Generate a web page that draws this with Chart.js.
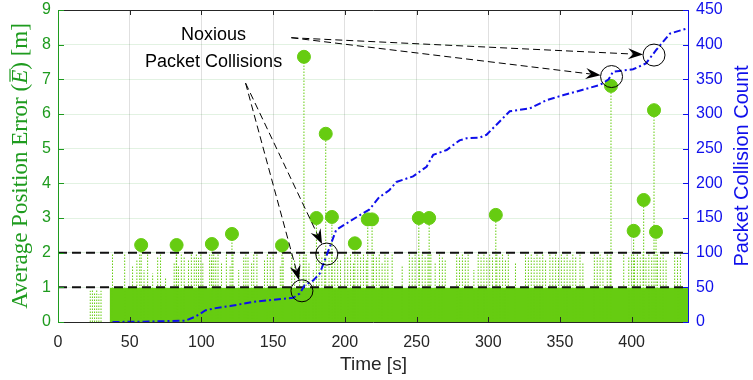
<!DOCTYPE html>
<html>
<head>
<meta charset="utf-8">
<script src="https://cdn.jsdelivr.net/npm/chart.js@4.4.1/dist/chart.umd.min.js"></script>
<style>
  html, body { margin: 0; padding: 0; background: #fff; }
  #wrap { width: 753px; height: 380px; }
</style>
</head>
<body>
<div id="wrap"><canvas id="errChart" width="753" height="380"></canvas></div>
<script>
// large errors (these get a marker on top of the stem)
const peakTimes  = [58, 82.7, 107.3, 121.3, 156.2, 171.5, 180.2, 186.7, 191, 207, 216, 219, 251.6, 258.8, 305.3, 385.6, 401.4, 408.4, 415.6, 417];
const peakErrors = [2.22, 2.22, 2.25, 2.54, 2.21, 7.65, 3.0, 5.43, 3.03, 2.27, 2.96, 2.96, 3.0, 3.0, 3.09, 6.81, 2.63, 3.52, 6.11, 2.6];

// stems between the two thresholds (no marker)
const bandTimes  = [22.5, 24, 25.5, 27, 28.5, 30,
  38, 46.5, 52, 55, 57, 60, 62.5, 66, 69.5, 71.5, 75, 81, 82.5, 84, 86, 88, 91, 93, 95, 96.5, 98, 99.6,
  101, 105.7, 107, 108.6, 110, 111.6, 114, 117.4, 120, 122, 126, 129.5, 131, 132.5, 135, 136.5, 138.7,
  144, 146, 148, 150, 155, 157, 163, 165, 168.5, 171, 173, 175, 178, 182, 184, 186, 189, 191, 193, 195, 197,
  200, 202, 204, 206, 209, 211, 213, 215, 220, 222, 224, 226, 228, 230, 233, 240, 245, 247, 249,
  252, 254, 256, 258, 260, 263, 266, 268, 270, 278, 280, 282, 284, 286, 290, 293, 295, 297, 299,
  301, 303, 306, 308, 310, 312, 314, 319, 326, 328, 330, 332, 334, 336, 338, 340, 343, 345, 347, 349,
  351, 353, 355, 357, 359, 361, 364, 366, 374, 376, 378, 380, 383, 385, 394.5, 398,
  400, 402, 404, 406, 408, 410, 412, 414, 418, 420, 422, 424, 430, 432, 434];
const bandErrors = [0.9, 0.95, 0.85, 0.95, 0.8, 0.9,
  1.95, 1.95, 1.6, 1.8, 1.95, 1.5, 1.95, 1.4, 1.9, 1.95, 1.3, 1.7, 1.95, 1.6, 1.95, 1.9, 1.8, 1.95, 1.9, 1.95, 1.85, 1.95,
  1.7, 1.95, 1.8, 1.95, 1.9, 1.95, 1.7, 1.95, 1.6, 1.95, 1.5, 1.9, 1.95, 1.9, 1.7, 1.95, 1.95,
  1.8, 1.95, 1.9, 1.95, 1.6, 1.9, 1.95, 1.8, 1.95, 1.9, 1.95, 1.7, 1.5, 1.95, 1.9, 1.95, 1.85, 1.95, 1.9, 1.95, 1.8,
  1.95, 1.9, 1.95, 1.7, 1.95, 1.9, 1.95, 1.8, 1.95, 1.9, 1.95, 1.7, 1.95, 1.85, 1.95, 1.6, 1.95, 1.9, 1.95,
  1.85, 1.95, 1.9, 1.95, 1.95, 1.7, 1.95, 1.9, 1.8, 1.95, 1.9, 1.95, 1.85, 1.95, 1.5, 1.95, 1.9, 1.95, 1.85,
  1.95, 1.9, 1.95, 1.9, 1.95, 1.8, 1.95, 1.7, 1.95, 1.9, 1.95, 1.85, 1.95, 1.9, 1.95, 1.8, 1.95, 1.9, 1.95, 1.85,
  1.95, 1.9, 1.95, 1.8, 1.95, 1.9, 1.95, 1.7, 1.95, 1.9, 1.95, 1.85, 1.95, 1.9, 1.95, 1.9,
  1.95, 1.85, 1.95, 1.9, 1.95, 1.85, 1.95, 1.9, 1.95, 1.9, 1.95, 1.8, 1.95, 1.9, 1.95];

// the bulk of small errors (< 1 m) is so dense it reads as a solid block
const denseTimes  = [36, 440];
const denseErrors = [0.98, 0.98];

const thresholds = [1, 2];

// cumulative packet collisions
const collTimes  = [38, 60, 89, 96, 103, 110, 120, 136, 150, 164, 168.5, 172, 178, 182.5, 186, 189.5, 194, 201, 212.7, 217, 224, 231, 236,
  247.6, 257, 261.6, 271, 280, 285, 294, 298.8, 315, 329, 340.7, 352, 366, 378, 384, 387, 401, 410, 417, 426.7, 438];
const collCounts = [0, 0.5, 2, 8, 17, 20, 23, 29, 32, 35, 41, 53, 60, 70, 89, 108, 133, 142, 157, 162, 180, 190, 202,
  210, 224, 241, 248, 262, 265, 266, 270, 304, 308, 320, 327, 335, 342, 350, 361, 364.5, 373, 392, 416, 423];

const X_MAX = 440;
const GREEN = 'rgb(102, 204, 17)';
const AXIS_GREEN = 'rgb(30, 155, 30)';
const BLUE = 'rgb(15, 15, 235)';
const DARK = '#262626';

function stemPoints(times, values) {
    const pts = [];
    times.forEach((t, i) => {
        pts.push({ x: t, y: 0 }, { x: t, y: values[i] }, { x: t, y: null });
    });
    return pts;
}

// annotation anchors in data units (x: seconds, y: collision count / error)
const circles = [[170.1, 45], [187.4, 98], [386, 354], [415.6, 385]];
const arrowStarts = [[130.8, 6.89], [130.8, 6.89], [162.7, 8.2], [162.7, 8.2]];

function drawArrowHead(ctx, tx, ty, ang) {
    const L = 15, W = 5.5;
    ctx.save();
    ctx.translate(tx, ty);
    ctx.rotate(ang);
    ctx.beginPath();
    ctx.moveTo(0, 0);
    ctx.lineTo(-L, -W);
    ctx.lineTo(-L * 0.65, 0);
    ctx.lineTo(-L, W);
    ctx.closePath();
    ctx.fillStyle = '#000';
    ctx.fill();
    ctx.restore();
}

// fixed axis sizes so the plot box lands where the original one is
function fixVertical(width) {
    return s => { s.width = width; s.paddingTop = 0; s.paddingBottom = 0; };
}

const decorations = {
    id: 'decorations',
    afterDatasetsDraw(chart) {
        const { ctx, chartArea: a, scales } = chart;
        const xs = scales.x, ys = scales.y, y1 = scales.y1;
        ctx.save();

        // axes box with inward ticks
        ctx.lineWidth = 1;
        ctx.strokeStyle = DARK;
        ctx.beginPath();
        ctx.moveTo(a.left, a.top + 0.5); ctx.lineTo(a.right, a.top + 0.5);
        ctx.moveTo(a.left, a.bottom + 0.5); ctx.lineTo(a.right, a.bottom + 0.5);
        for (let t = 0; t <= X_MAX; t += 50) {
            const px = Math.round(xs.getPixelForValue(t)) + 0.5;
            ctx.moveTo(px, a.top); ctx.lineTo(px, a.top + 5);
            ctx.moveTo(px, a.bottom); ctx.lineTo(px, a.bottom - 5);
        }
        ctx.stroke();

        ctx.strokeStyle = AXIS_GREEN;
        ctx.beginPath();
        ctx.moveTo(a.left + 0.5, a.top); ctx.lineTo(a.left + 0.5, a.bottom + 1);
        for (let v = 0; v <= 9; v++) {
            const py = Math.round(ys.getPixelForValue(v)) + 0.5;
            ctx.moveTo(a.left, py); ctx.lineTo(a.left + 6, py);
        }
        ctx.stroke();

        ctx.strokeStyle = BLUE;
        ctx.beginPath();
        ctx.moveTo(a.right - 0.5, a.top); ctx.lineTo(a.right - 0.5, a.bottom + 1);
        for (let c = 0; c <= 450; c += 50) {
            const py = Math.round(y1.getPixelForValue(c)) + 0.5;
            ctx.moveTo(a.right, py); ctx.lineTo(a.right - 6, py);
        }
        ctx.stroke();

        // circles around the noxious collisions
        const R = 11;
        ctx.strokeStyle = '#000';
        ctx.lineWidth = 1;
        circles.forEach(([t, c]) => {
            ctx.beginPath();
            ctx.arc(xs.getPixelForValue(t), y1.getPixelForValue(c), R, 0, Math.PI * 2);
            ctx.stroke();
        });

        // dashed arrows from the label to the circles
        arrowStarts.forEach(([t, v], i) => {
            const sx = xs.getPixelForValue(t), sy = ys.getPixelForValue(v);
            const cx = xs.getPixelForValue(circles[i][0]), cy = y1.getPixelForValue(circles[i][1]);
            const ang = Math.atan2(cy - sy, cx - sx);
            const tx = cx - R * Math.cos(ang), ty = cy - R * Math.sin(ang);
            ctx.setLineDash([7, 4]);
            ctx.beginPath();
            ctx.moveTo(sx, sy);
            ctx.lineTo(tx - 10 * Math.cos(ang), ty - 10 * Math.sin(ang));
            ctx.stroke();
            ctx.setLineDash([]);
            drawArrowHead(ctx, tx, ty, ang);
        });

        // label
        ctx.fillStyle = '#000';
        ctx.font = '18px "Liberation Sans", Arial, sans-serif';
        ctx.textAlign = 'center';
        ctx.textBaseline = 'middle';
        const lx = xs.getPixelForValue(108.5);
        ctx.fillText('Noxious', lx, ys.getPixelForValue(8.28));
        ctx.fillText('Packet Collisions', lx, ys.getPixelForValue(7.5));

        ctx.restore();
    },
    afterDraw(chart) {
        const { ctx, chartArea: a } = chart;
        const midY = (a.top + a.bottom) / 2;
        ctx.save();

        ctx.fillStyle = DARK;
        ctx.font = '19px "Liberation Sans", Arial, sans-serif';
        ctx.textAlign = 'center';
        ctx.textBaseline = 'middle';
        ctx.fillText('Time [s]', (a.left + a.right) / 2, 365);

        // left title, serif with overlined italic E
        ctx.save();
        ctx.translate(21, midY);
        ctx.rotate(-Math.PI / 2);
        ctx.fillStyle = AXIS_GREEN;
        ctx.strokeStyle = AXIS_GREEN;
        ctx.textAlign = 'left';
        const roman = '23px "Liberation Serif", "Times New Roman", serif';
        const ital = 'italic 23px "Liberation Serif", "Times New Roman", serif';
        const parts = [['Average Position Error (', roman], ['E', ital], [') [m]', roman]];
        let total = 0;
        parts.forEach(([s, f]) => { ctx.font = f; total += ctx.measureText(s).width; });
        let px = -total / 2;
        parts.forEach(([s, f]) => {
            ctx.font = f;
            const w = ctx.measureText(s).width;
            ctx.fillText(s, px, 0);
            if (s === 'E') {
                ctx.lineWidth = 1.2;
                ctx.beginPath();
                ctx.moveTo(px + 2, -11);
                ctx.lineTo(px + w + 1, -11);
                ctx.stroke();
            }
            px += w;
        });
        ctx.restore();

        // right title
        ctx.save();
        ctx.translate(742, midY);
        ctx.rotate(-Math.PI / 2);
        ctx.fillStyle = BLUE;
        ctx.font = '20px "Liberation Sans", Arial, sans-serif';
        ctx.textAlign = 'center';
        ctx.textBaseline = 'middle';
        ctx.fillText('Packet Collision Count', 0, 0);
        ctx.restore();

        ctx.restore();
    }
};

const tickFont = { family: '"Liberation Sans", Arial, sans-serif', size: 16 };

new Chart(document.getElementById('errChart').getContext('2d'), {
    type: 'line',
    data: {
        datasets: [
            {
                label: 'Packet collisions',
                yAxisID: 'y1',
                data: collTimes.map((t, i) => ({ x: t, y: collCounts[i] })),
                borderColor: BLUE,
                borderWidth: 2,
                borderDash: [7, 3, 2, 3],
                pointRadius: 0,
                tension: 0,
                order: 0
            },
            {
                label: 'Large errors',
                yAxisID: 'y',
                data: peakTimes.map((t, i) => ({ x: t, y: peakErrors[i] })),
                showLine: false,
                pointRadius: 6.5,
                pointBackgroundColor: GREEN,
                pointBorderColor: GREEN,
                order: 1
            },
            ...thresholds.map(lvl => ({
                label: 'Threshold ' + lvl,
                yAxisID: 'y',
                data: [{ x: 0, y: lvl }, { x: X_MAX, y: lvl }],
                borderColor: '#111',
                borderWidth: 2,
                borderDash: [9, 5],
                pointRadius: 0,
                order: 2
            })),
            {
                label: 'Error stems',
                yAxisID: 'y',
                data: stemPoints(bandTimes.concat(peakTimes), bandErrors.concat(peakErrors)),
                borderColor: GREEN,
                borderWidth: 1,
                borderDash: [1.5, 1.5],
                pointRadius: 0,
                spanGaps: false,
                order: 3
            },
            {
                label: 'Small errors',
                yAxisID: 'y',
                data: denseTimes.map((t, i) => ({ x: t, y: denseErrors[i] })),
                borderWidth: 0,
                borderColor: GREEN,
                backgroundColor: GREEN,
                fill: 'origin',
                pointRadius: 0,
                order: 4
            }
        ]
    },
    options: {
        responsive: false,
        animation: false,
        devicePixelRatio: 1,
        layout: { padding: { top: 10, left: 0, right: 0, bottom: 0 } },
        plugins: { legend: { display: false }, tooltip: { enabled: false } },
        scales: {
            x: {
                type: 'linear',
                min: 0,
                max: X_MAX,
                afterFit: s => { s.height = 58; s.paddingLeft = 0; s.paddingRight = 0; },
                border: { display: false },
                grid: { color: 'rgba(0,0,0,0.12)', drawTicks: false },
                ticks: { stepSize: 50, includeBounds: false, color: DARK, font: tickFont, padding: 11, maxRotation: 0 }
            },
            y: {
                position: 'left',
                min: 0,
                max: 9,
                afterFit: fixVertical(58),
                border: { display: false },
                grid: { color: 'rgba(30,155,30,0.13)', drawTicks: false },
                ticks: { stepSize: 1, color: AXIS_GREEN, font: tickFont, padding: 7 }
            },
            y1: {
                position: 'right',
                min: 0,
                max: 450,
                afterFit: fixVertical(64),
                border: { display: false },
                grid: { drawOnChartArea: false, drawTicks: false },
                ticks: { stepSize: 50, color: BLUE, font: tickFont, padding: 7 }
            }
        }
    },
    plugins: [decorations]
});
</script>
</body>
</html>
